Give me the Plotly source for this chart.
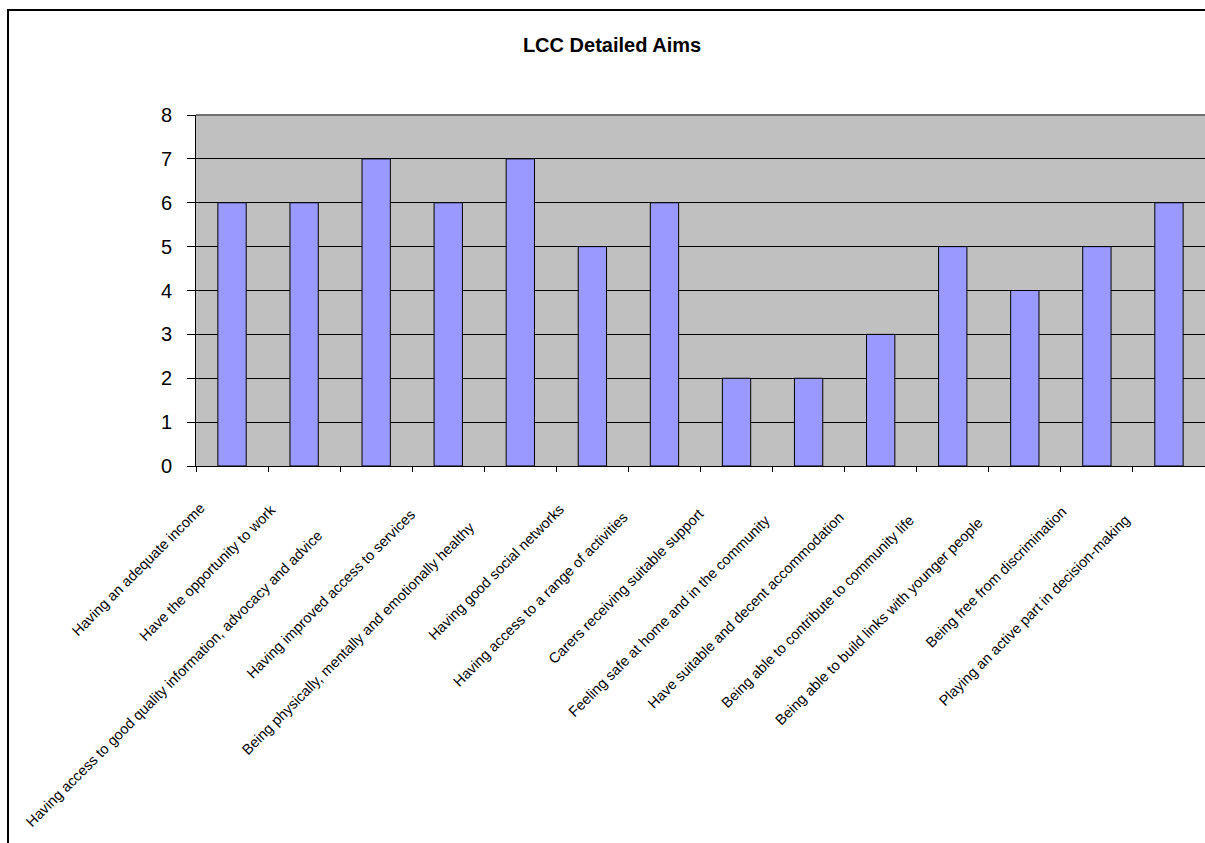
import plotly.graph_objects as go

categories = [
    "Having an adequate income",
    "Have the opportunity to work",
    "Having access to good quality information, advocacy and advice",
    "Having improved access to services",
    "Being physically, mentally and emotionally healthy",
    "Having good social networks",
    "Having access to a range of activities",
    "Carers receiving suitable support",
    "Feeling safe at home and in the community",
    "Have suitable and decent accommodation",
    "Being able to contribute to community life",
    "Being able to build links with younger people",
    "Being free from discrimination",
    "Playing an active part in decision-making",
]
values = [6, 6, 7, 6, 7, 5, 6, 2, 2, 3, 5, 4, 5, 6]
y_ticks = [0, 1, 2, 3, 4, 5, 6, 7, 8]

W, H = 1205, 843
L, R, T, B = 196, 0, 115, 377
pw = W - L - R
ph = H - T - B

FONT = "Liberation Sans, Arial, sans-serif"

fig = go.Figure()
fig.add_trace(go.Bar(
    x=categories, y=values,
    marker=dict(color="#9999FF", line=dict(color="black", width=1)),
    hoverinfo="skip",
))

annotations = []
for c in categories:
    s = 0.75 * len(c) - 5
    annotations.append(dict(
        x=c, y=0, xref="x", yref="y",
        text=c, showarrow=False, textangle=-45,
        xanchor="right", yanchor="top",
        xshift=-(s + 7), yshift=-(17 + s),
        font=dict(family=FONT, size=14.5, color="black"),
    ))

def px_x(p):
    return (p - L) / pw

def px_y(p):
    return (H - B - p) / ph

shapes = [
    # outer chart frame: left and top edges (right/bottom lie beyond the page)
    dict(type="line", xref="paper", yref="paper",
         x0=px_x(8), x1=px_x(8), y0=px_y(H + 20), y1=px_y(9),
         line=dict(color="black", width=2), layer="above"),
    dict(type="line", xref="paper", yref="paper",
         x0=px_x(7), x1=px_x(W + 20), y0=px_y(10), y1=px_y(10),
         line=dict(color="black", width=2), layer="above"),
    # top edge of plot area
    dict(type="line", xref="paper", yref="paper",
         x0=0, x1=1, y0=1, y1=1,
         line=dict(color="#707070", width=2), layer="above"),
]

fig.update_layout(
    width=W, height=H,
    margin=dict(l=L, r=R, t=T, b=B, pad=0),
    paper_bgcolor="white",
    plot_bgcolor="#C0C0C0",
    showlegend=False,
    bargap=0.607,
    title=dict(
        text="<b>LCC Detailed Aims</b>",
        x=612 / W, xref="container", xanchor="center",
        y=1 - 45 / H, yref="container", yanchor="middle",
        font=dict(family=FONT, size=20, color="black"),
    ),
    xaxis=dict(
        type="category",
        range=[-0.5, len(categories) - 0.5],
        showticklabels=False,
        ticks="outside", tickson="boundaries", ticklen=5,
        tickcolor="black", tickwidth=1,
        showline=True, linecolor="black", linewidth=1,
        showgrid=False, zeroline=False,
        fixedrange=True,
    ),
    yaxis=dict(
        range=[0, 8],
        tickvals=y_ticks,
        ticktext=[str(v) for v in y_ticks],
        ticks="outside", ticklen=8, tickcolor="black", tickwidth=1,
        ticklabelstandoff=11,
        tickfont=dict(family=FONT, size=20, color="black"),
        showline=True, linecolor="black", linewidth=1,
        showgrid=True, gridcolor="black", gridwidth=1,
        zeroline=False,
        fixedrange=True,
    ),
    annotations=annotations,
    shapes=shapes,
)

fig.write_html("out.html", config={"displayModeBar": False})
